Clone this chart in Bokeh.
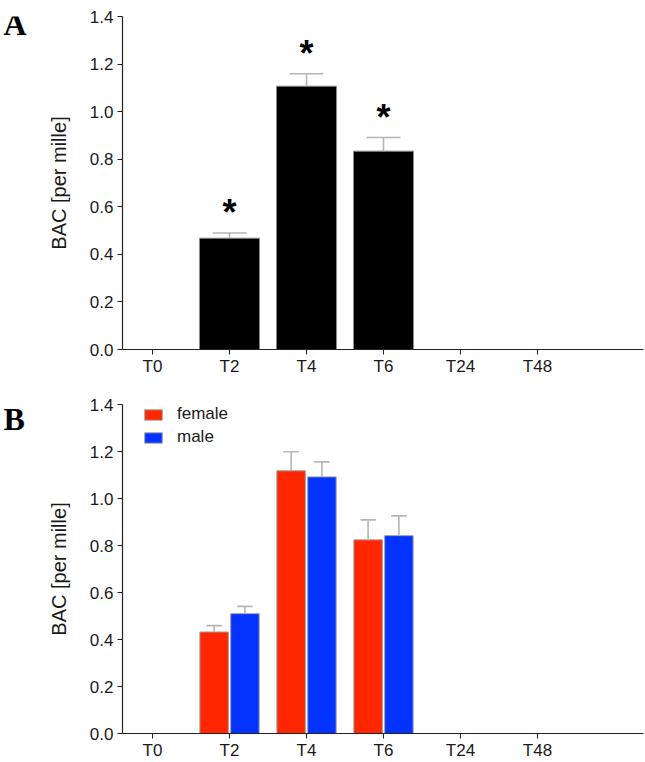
from bokeh.plotting import figure
from bokeh.layouts import column, row
from bokeh.models import Range1d, FixedTicker, PrintfTickFormatter, ColumnDataSource
from bokeh.core.properties import value
from bokeh.embed import file_html
from bokeh.resources import INLINE

# ---------------- data ----------------
categories = ["T0", "T2", "T4", "T6", "T24", "T48"]
y_ticks = [0.0, 0.2, 0.4, 0.6, 0.8, 1.0, 1.2, 1.4]

# Panel A: all subjects (mean, SEM)
bac_all = [0.0, 0.468, 1.107, 0.834, 0.0, 0.0]
sem_all = [0.0, 0.022, 0.052, 0.057, 0.0, 0.0]
signif_all = [False, True, True, True, False, False]

# Panel B: by sex (mean, SEM)
bac_female = [0.0, 0.432, 1.118, 0.824, 0.0, 0.0]
sem_female = [0.0, 0.027, 0.081, 0.085, 0.0, 0.0]
bac_male = [0.0, 0.510, 1.092, 0.842, 0.0, 0.0]
sem_male = [0.0, 0.031, 0.064, 0.084, 0.0, 0.0]

# ---------------- style ----------------
FONT = "Liberation Sans"
ERR = "#b5b5b5"
EDGE = "#a0a0a0"
RED = "#ff2600"
BLUE = "#0433ff"
LW = 40            # width of the panel-letter strip
W = 645 - LW
X_RANGE = (-0.39, 6.377)


def base_fig(height, top, bottom):
    p = figure(width=W, height=height, output_backend="svg", toolbar_location=None,
               x_range=Range1d(*X_RANGE), y_range=Range1d(0, 1.4),
               min_border_left=122 - LW, min_border_right=2,
               min_border_top=top, min_border_bottom=bottom)
    p.outline_line_color = None
    p.xgrid.visible = False
    p.ygrid.visible = False
    p.background_fill_color = "white"
    p.border_fill_color = "white"
    for ax in (p.xaxis[0], p.yaxis[0]):
        ax.axis_line_color = "#222222"
        ax.axis_line_width = 1.2
        ax.major_tick_line_color = "#222222"
        ax.major_tick_in = 0
        ax.major_tick_out = 5
        ax.minor_tick_line_color = None
        ax.major_label_text_font = FONT
        ax.major_label_text_font_size = "17px"
        ax.major_label_text_color = "#1a1a1a"
    p.xaxis.ticker = FixedTicker(ticks=list(range(len(categories))))
    p.xaxis.major_label_overrides = {i: c for i, c in enumerate(categories)}
    p.xaxis.major_label_standoff = 2
    p.xaxis.major_label_text_line_height = 1.0
    p.yaxis.ticker = FixedTicker(ticks=y_ticks)
    p.yaxis.formatter = PrintfTickFormatter(format="%.1f")
    p.yaxis.major_label_standoff = 4
    p.yaxis.axis_label = "BAC [per mille]"
    p.yaxis.axis_label_text_font = FONT
    p.yaxis.axis_label_text_font_size = "20px"
    p.yaxis.axis_label_text_font_style = "normal"
    p.yaxis.axis_label_text_color = "#1a1a1a"
    p.yaxis.axis_label_standoff = 17
    return p


def letter_fig(letter, height, baseline_from_top):
    # a blank strip that holds the panel letter
    f = figure(width=LW, height=height, output_backend="svg", toolbar_location=None,
               title=None,
               x_range=Range1d(0, LW), y_range=Range1d(0, height),
               x_axis_location=None, y_axis_location=None,
               min_border_left=0, min_border_right=0, min_border_top=0, min_border_bottom=0)
    f.outline_line_color = None
    f.xgrid.visible = False
    f.ygrid.visible = False
    f.text(x=[3], y=[height - baseline_from_top], text=[letter],
           text_font=value("Liberation Serif"), text_font_style="bold",
           text_font_size="32px", text_color="black", text_baseline="alphabetic",
           text_align="left")
    return f


def error_bars(p, xs, tops, sems, cap_w):
    src = ColumnDataSource(dict(
        x=xs, y0=tops, y1=[t + s for t, s in zip(tops, sems)],
        xl=[x - cap_w / 2 for x in xs], xr=[x + cap_w / 2 for x in xs]))
    p.segment(x0="x", y0="y0", x1="x", y1="y1", source=src, line_color=ERR, line_width=1.6)
    p.segment(x0="xl", y0="y1", x1="xr", y1="y1", source=src, line_color=ERR, line_width=1.6)


# ---------------- panel A ----------------
HA = 380
pa = base_fig(HA, 16, 31)
idx = [i for i, v in enumerate(bac_all) if v > 0]
xa = [float(i) for i in idx]
ta = [bac_all[i] for i in idx]
sa = [sem_all[i] for i in idx]
pa.vbar(x=xa, top=ta, bottom=0, width=0.78, fill_color="black", line_color="#8c8c8c", line_width=1)
error_bars(pa, xa, ta, sa, 0.44)
star_idx = [i for i in idx if signif_all[i]]
pa.text(x=[float(i) for i in star_idx],
        y=[bac_all[i] + sem_all[i] + 0.085 for i in star_idx],
        text=["*"] * len(star_idx), text_align="center", text_baseline="alphabetic",
        text_font=value(FONT), text_font_style="bold", text_font_size="36px", text_color="black")

# ---------------- panel B ----------------
HB = 382
pb = base_fig(HB, 24, 25)
idx_b = [i for i in range(len(categories)) if bac_female[i] > 0 or bac_male[i] > 0]
off = 0.2
bw = 0.37
xf = [i - off for i in idx_b]
xm = [i + off for i in idx_b]
tf = [bac_female[i] for i in idx_b]
tm = [bac_male[i] for i in idx_b]
pb.vbar(x=xf, top=tf, bottom=0, width=bw, fill_color=RED, line_color=EDGE, line_width=1,
        legend_label="female")
pb.vbar(x=xm, top=tm, bottom=0, width=bw, fill_color=BLUE, line_color=EDGE, line_width=1,
        legend_label="male")
error_bars(pb, xf, tf, [sem_female[i] for i in idx_b], 0.2)
error_bars(pb, xm, tm, [sem_male[i] for i in idx_b], 0.2)
lg = pb.legend[0]
lg.location = (20, 333 - 47)
lg.border_line_color = None
lg.background_fill_alpha = 0
lg.padding = 0
lg.margin = 0
lg.spacing = 3
lg.glyph_width = 22
lg.glyph_height = 13
lg.label_height = 20
lg.label_standoff = 13
lg.label_text_font = FONT
lg.label_text_font_size = "17px"
lg.label_text_color = "#1a1a1a"

la = letter_fig("A", HA, 9)
lb = letter_fig("B", HB, 16.75)

layout = column(row(la, pa, spacing=0), row(lb, pb, spacing=0), spacing=0)
open("out.html", "w").write(file_html(layout, INLINE))
